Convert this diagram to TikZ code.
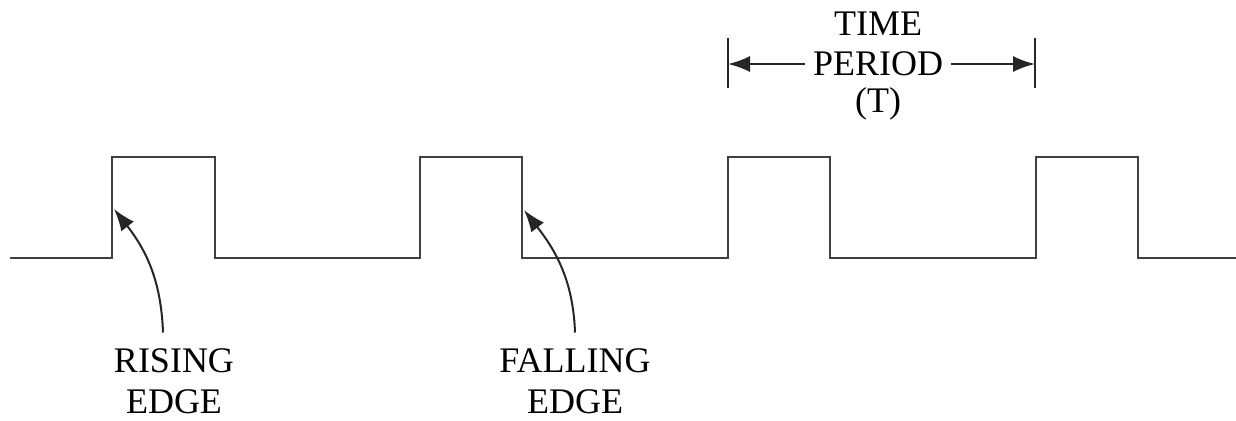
\documentclass[tikz,border=0pt]{standalone}
\usepackage{fontspec}
\setmainfont{Liberation Serif}
\usetikzlibrary{arrows.meta}
\begin{document}
\begin{tikzpicture}[x=0.5pt,y=-0.5pt,
  wave/.style={line width=1.2pt,draw=black!75,line join=miter},
  lbl/.style={font=\fontsize{18}{20}\selectfont,inner xsep=0pt,inner ysep=8pt},
  plbl/.style={font=\fontsize{18}{20}\selectfont,inner xsep=4pt,inner ysep=0pt},
  arr/.style={line width=1pt,draw=black!85,-{Latex[length=11pt,width=8pt]}},
  bar/.style={line width=1.1pt,draw=black!85}]
\useasboundingbox (0,0) rectangle (1236,420);
% square wave
\draw[wave] (10,258) -- (112,258) -- (112,157) -- (215,157) -- (215,258)
  -- (420,258) -- (420,157) -- (522,157) -- (522,258)
  -- (728,258) -- (728,157) -- (830,157) -- (830,258)
  -- (1036,258) -- (1036,157) -- (1138,157) -- (1138,258) -- (1236,258);
% edge targets
\coordinate (rise) at (114,209);
\coordinate (fall) at (524,210);
% labels
\node[lbl] (rising) at (174,361) {RISING};
\node[lbl] (redge) at (174,402) {EDGE};
\node[lbl] (falling) at (575,361) {FALLING};
\node[lbl] (fedge) at (575,402) {EDGE};
\draw[arr] ([xshift=-5.5pt]rising.north) to[out=92,in=-52] (rise);
\draw[arr] (falling.north) to[out=92,in=-52] (fall);
% time period
\coordinate (lbtop) at (728,38);
\coordinate (lbbot) at (728,88);
\coordinate (rbtop) at (1035,38);
\coordinate (rbbot) at (1035,88);
\draw[bar] (lbtop) -- (lbbot);
\draw[bar] (rbtop) -- (rbbot);
\node[plbl] (time) at (878,24) {TIME};
\node[plbl] (period) at (878,64) {PERIOD};
\node[plbl] (tt) at (878,104) {(T)};
\coordinate (larr) at (728,64);
\coordinate (rarr) at (1035,64);
\draw[arr] (period.west) -- (larr);
\draw[arr] (period.east) -- (rarr);
\end{tikzpicture}
\end{document}
